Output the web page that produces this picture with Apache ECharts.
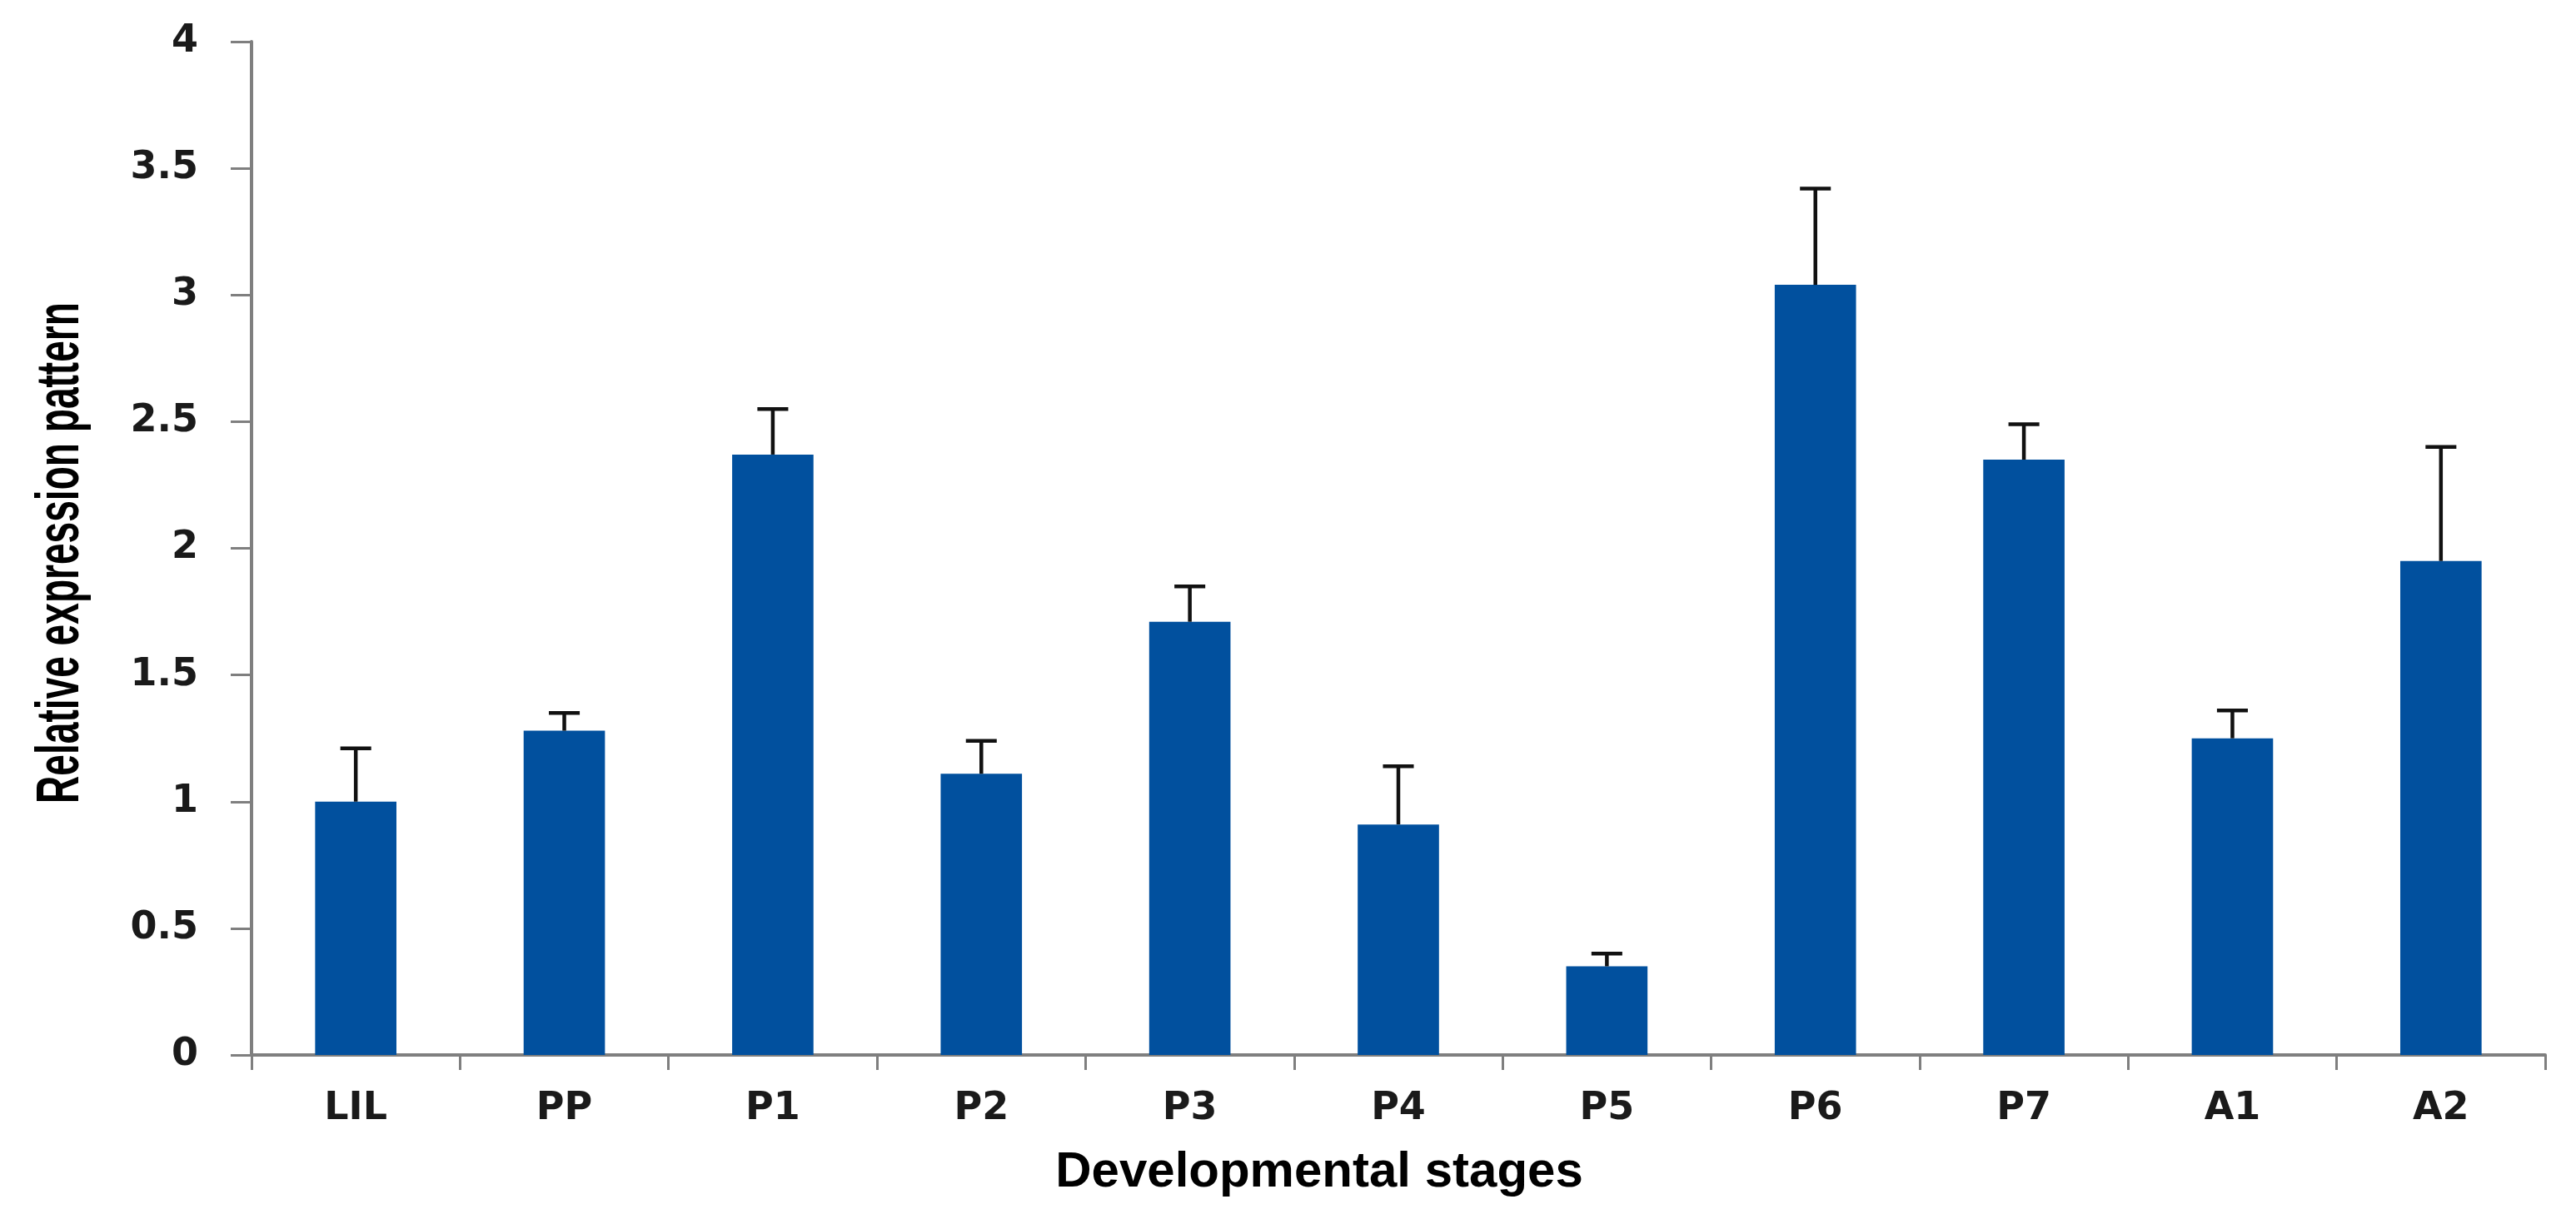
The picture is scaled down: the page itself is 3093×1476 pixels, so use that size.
<!DOCTYPE html>
<html>
<head>
<meta charset="utf-8">
<title>Relative expression pattern</title>
<script src="https://cdn.jsdelivr.net/npm/echarts@6/dist/echarts.min.js"></script>
<style>
  html, body { margin: 0; padding: 0; background: #fff; }
  #chart { width: 3093px; height: 1476px; }
</style>
</head>
<body>
<div id="chart"></div>
<script>
// data
var stages = ['LIL', 'PP', 'P1', 'P2', 'P3', 'P4', 'P5', 'P6', 'P7', 'A1', 'A2'];
var expression = [1.00, 1.28, 2.37, 1.11, 1.71, 0.91, 0.35, 3.04, 2.35, 1.25, 1.95];
var errorUp = [0.21, 0.07, 0.18, 0.13, 0.14, 0.23, 0.05, 0.38, 0.14, 0.11, 0.45];
var yTicks = [0, 0.5, 1, 1.5, 2, 2.5, 3, 3.5, 4];

var axisGray = '#7f7f7f';
var labelFont = 'DejaVu Sans';

// error bar rows: [index, mean, mean + error]
var errData = stages.map(function (s, i) {
    return [i, expression[i], expression[i] + errorUp[i]];
});

var myChart = echarts.init(document.getElementById('chart'));

var option = {
    animation: false,
    backgroundColor: '#fff',
    grid: { left: 302, right: 37, top: 50, bottom: 209, containLabel: false },
    xAxis: {
        type: 'category',
        data: stages,
        boundaryGap: true,
        name: 'Developmental stages',
        nameLocation: 'middle',
        nameGap: 111,
        // title sits a bit left of the plot centre in the original
        nameTextStyle: { fontFamily: 'Liberation Sans', fontWeight: 'bold', fontSize: 60, color: '#000', padding: [0, 190, 0, 0] },
        axisLine: { show: true, lineStyle: { color: axisGray, width: 4 } },
        axisTick: { show: true, alignWithLabel: false, length: 18, lineStyle: { color: axisGray, width: 3 } },
        axisLabel: { margin: 42, fontFamily: labelFont, fontWeight: 'bold', fontSize: 46, color: '#1a1a1a' },
        splitLine: { show: false }
    },
    yAxis: {
        type: 'value',
        min: yTicks[0],
        max: yTicks[yTicks.length - 1],
        interval: yTicks[1] - yTicks[0],
        axisLine: { show: true, lineStyle: { color: axisGray, width: 4 } },
        axisTick: { show: true, inside: false, length: 25, lineStyle: { color: axisGray, width: 3 } },
        axisLabel: { margin: 64, fontFamily: labelFont, fontWeight: 'bold', fontSize: 46, color: '#1a1a1a' },
        splitLine: { show: false }
    },
    graphic: [{
        type: 'text',
        x: 74,
        y: 664,
        rotation: Math.PI / 2,
        scaleX: 0.64,
        style: {
            text: 'Relative expression pattern',
            font: 'bold 72px "Liberation Sans"',
            fill: '#000',
            align: 'center',
            verticalAlign: 'middle'
        }
    }],
    series: [{
        name: 'Relative expression',
        type: 'bar',
        data: expression,
        barWidth: '39%',
        itemStyle: { color: '#01509e' }
    }, {
        name: 'Error',
        type: 'custom',
        data: errData,
        encode: { x: 0, y: 2 },
        z: 3,
        renderItem: function (params, api) {
            var idx = api.value(0);
            var base = api.coord([idx, api.value(1)]);
            var top = api.coord([idx, api.value(2)]);
            var half = api.size([1, 0])[0] * 0.074;
            var st = { stroke: '#111', lineWidth: 4.5 };
            return {
                type: 'group',
                children: [
                    { type: 'line', shape: { x1: top[0], y1: base[1], x2: top[0], y2: top[1] }, style: st },
                    { type: 'line', shape: { x1: top[0] - half, y1: top[1], x2: top[0] + half, y2: top[1] }, style: st }
                ]
            };
        }
    }]
};

myChart.setOption(option);
</script>
</body>
</html>
